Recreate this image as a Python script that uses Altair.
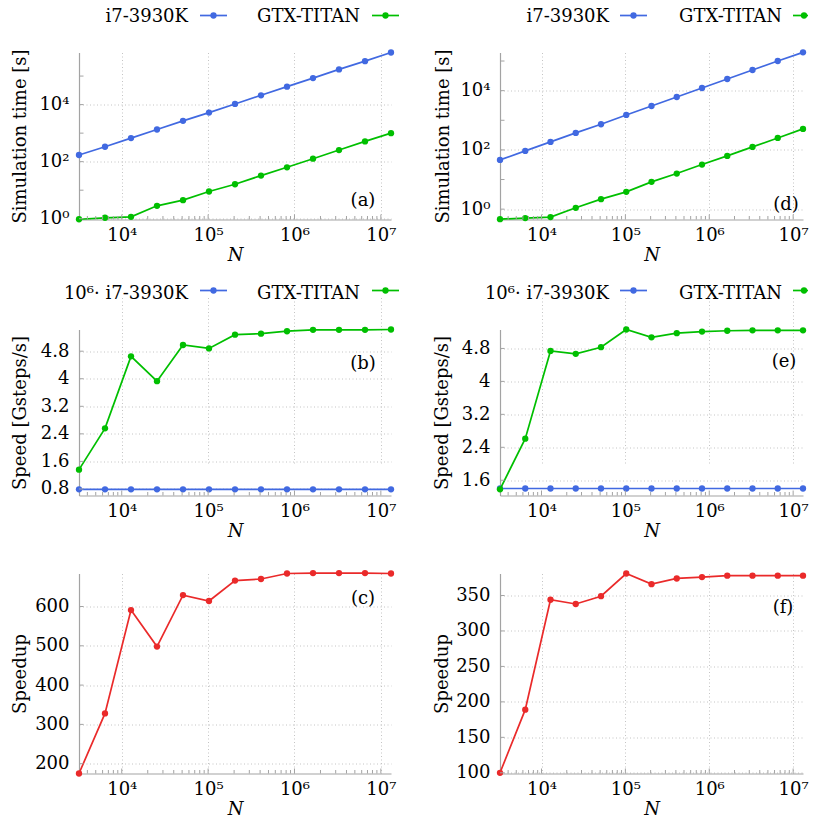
import altair as alt
import pandas as pd

FONT = "DejaVu Serif"
FS = 18

# ---------------- data ----------------
N_vals = [3200, 6400, 12800, 25600, 51200, 102400, 204800, 409600, 819200,
          1638400, 3276800, 6553600, 13107200]

cpu_time_a = [171, 333, 670, 1343, 2692, 5250, 10550, 21200, 42500, 85100, 171000, 333000, 670000]
gpu_time_a = [0.96, 1.08, 1.17, 2.84, 4.48, 8.98, 16.2, 32.5, 63.4, 127, 255, 512, 1000]

cpu_time_d = [46, 92.5, 186, 374, 733, 1513, 3040, 6120, 12300, 24700, 49800, 100000, 196000]
gpu_time_d = [0.46, 0.50, 0.54, 1.11, 2.17, 3.84, 8.34, 15.9, 32, 62.8, 126, 253, 511]

cpu_speed_b = [0.79, 0.79, 0.79, 0.79, 0.79, 0.79, 0.79, 0.79, 0.79, 0.79, 0.79, 0.79, 0.79]
gpu_speed_b = [1.36, 2.56, 4.65, 3.93, 4.98, 4.88, 5.28, 5.31, 5.38, 5.42, 5.42, 5.42, 5.43]

cpu_speed_e = [1.40, 1.40, 1.40, 1.40, 1.40, 1.40, 1.40, 1.40, 1.40, 1.40, 1.40, 1.40, 1.40]
gpu_speed_e = [1.38, 2.61, 4.74, 4.67, 4.83, 5.26, 5.07, 5.17, 5.21, 5.23, 5.24, 5.24, 5.24]

speedup_c = [175, 328, 591, 498, 629, 614, 666, 670, 684, 685, 685, 685, 684]
speedup_f = [100, 189, 344, 338, 349, 381, 366, 374, 376, 378, 378, 378, 378]

x_major = [1e4, 1e5, 1e6, 1e7]
y_vals_time = [1, 100, 10000]
y_vals_b = [0.8, 1.6, 2.4, 3.2, 4, 4.8]
y_vals_e = [1.6, 2.4, 3.2, 4, 4.8]
y_vals_c = [200, 300, 400, 500, 600]
y_vals_f = [100, 150, 200, 250, 300, 350]

BLUE = "#4169e1"
GREEN = "#00bf00"
RED = "#ea2a2a"
AXIS_GRAY = "#a3a3a3"

W_L = 312
W_R = 303
COL_GAP = 109
ROW_GAP = 78
H1, TOP1 = 167, 0
H2, TOP2 = 198, 32
H3, TOP3 = 200, 0
TITLE_N_Y = 41

XDOM = [3200, 13107200]
x_minor = [m * 10 ** k for k in range(3, 8) for m in range(2, 10)
           if XDOM[0] <= m * 10 ** k <= XDOM[1]]

SUP = ['⁰', '¹', '²', '³', '⁴', '⁵', '⁶', '⁷', '⁸', '⁹']
LOG_LABEL = "'10' + [" + ",".join("'%s'" % s for s in SUP) + "][round(log(datum.value)/LN10)]"
LIN_LABEL = "'' + datum.value"

one = pd.DataFrame({"d": [0]})

LEG_LEFT = dict(cpu_right=109, blue=(121, 148, 134.5), gtx_right=281, green=(293, 320, 306.5))
LEG_RIGHT = dict(cpu_right=109, blue=(120, 147, 133.5), gtx_right=282, green=(293, 308, 304))


def txt(text, x, y, align="center", baseline="alphabetic"):
    return alt.Chart(one).mark_text(
        text=text, align=align, baseline=baseline, font=FONT, fontSize=FS, color="black"
    ).encode(x=alt.value(x), y=alt.value(y))


def panel(series, ytype, ydom, yvals, yticks, ytitle, title_x, W, H, top,
          letter, lx, ly, legend=None, leg_pos=LEG_LEFT):
    xs = alt.Scale(type="log", domain=XDOM, nice=False)
    ys = alt.Scale(type=ytype, domain=ydom, range=[H, top], nice=False, zero=False)
    common = dict(grid=True, ticks=False, labelFlush=False, labelOverlap=False, labelBound=False)
    xaxis = alt.Axis(values=x_major, labelExpr=LOG_LABEL, title="N", titleFontStyle="italic",
                     titleX=W / 2, titleY=TITLE_N_Y, titleAlign="center",
                     titleBaseline="alphabetic", labelPadding=7, **common)
    yaxis = alt.Axis(values=yvals, title=ytitle, titleX=title_x, titleY=(H + top) / 2,
                     titleAlign="center", titleBaseline="middle", titleAngle=270,
                     labelPadding=10, labelExpr=LOG_LABEL if ytype == "log" else LIN_LABEL,
                     **common)

    layers = []
    for vals, color in series:
        df = pd.DataFrame({"N": N_vals, "v": vals})
        layers.append(
            alt.Chart(df).mark_line(
                color=color, strokeWidth=1.7,
                point=alt.OverlayMarkDef(filled=True, color=color, size=40, opacity=1)
            ).encode(x=alt.X("N:Q", scale=xs, axis=xaxis),
                     y=alt.Y("v:Q", scale=ys, axis=yaxis))
        )
    # inward ticks
    layers.append(alt.Chart(pd.DataFrame({"t": x_major})).mark_rule(color=AXIS_GRAY, strokeWidth=1).encode(
        x=alt.X("t:Q", scale=xs, axis=xaxis), y=alt.value(H), y2=alt.value(H - 5)))
    layers.append(alt.Chart(pd.DataFrame({"t": x_minor})).mark_rule(color=AXIS_GRAY, strokeWidth=1).encode(
        x=alt.X("t:Q", scale=xs, axis=xaxis), y=alt.value(H), y2=alt.value(H - 3.5)))
    layers.append(alt.Chart(pd.DataFrame({"t": yticks})).mark_rule(color=AXIS_GRAY, strokeWidth=1).encode(
        y=alt.Y("t:Q", scale=ys, axis=yaxis), x=alt.value(0), x2=alt.value(4.5)))

    layers.append(txt(letter, lx, ly, baseline="middle"))

    if legend is not None:
        cpu_label, line_y, base_y = legend
        layers.append(txt(cpu_label, leg_pos["cpu_right"], base_y, align="right"))
        layers.append(txt("GTX-TITAN", leg_pos["gtx_right"], base_y, align="right"))
        for (x1, x2, xc), col in [(leg_pos["blue"], BLUE), (leg_pos["green"], GREEN)]:
            layers.append(alt.Chart(one).mark_rule(color=col, strokeWidth=1.7).encode(
                x=alt.value(x1), x2=alt.value(x2), y=alt.value(line_y)))
            layers.append(alt.Chart(one).mark_point(filled=True, color=col, size=40, opacity=1).encode(
                x=alt.value(xc), y=alt.value(line_y)))

    return alt.layer(*layers).properties(width=W, height=H)


pa = panel([(cpu_time_a, BLUE), (gpu_time_a, GREEN)], "log", [0.94, 6.7e5], y_vals_time,
           [1, 10, 100, 1000, 10000, 100000], "Simulation time [s]", -59, W_L, H1, TOP1,
           "(a)", 284, TOP1 + 148, legend=("i7-3930K", -37, -30.2))
pd_ = panel([(cpu_time_d, BLUE), (gpu_time_d, GREEN)], "log", [0.447, 1.94e5], y_vals_time,
            [1, 10, 100, 1000, 10000, 100000], "Simulation time [s]", -57, W_R, H1, TOP1,
            "(d)", 286, TOP1 + 152, legend=("i7-3930K", -37, -30.2), leg_pos=LEG_RIGHT)
pb = panel([(cpu_speed_b, BLUE), (gpu_speed_b, GREEN)], "linear", [0.61, 5.43], y_vals_b,
           y_vals_b, "Speed [Gsteps/s]", -59, W_L, H2, TOP2,
           "(b)", 284, TOP2 + 34, legend=("10⁶· i7-3930K", TOP2 - 39, TOP2 - 31))
pe = panel([(cpu_speed_e, BLUE), (gpu_speed_e, GREEN)], "linear", [1.23, 5.26], y_vals_e,
           y_vals_e, "Speed [Gsteps/s]", -58, W_R, H2, TOP2,
           "(e)", 284, TOP2 + 32, legend=("10⁶· i7-3930K", TOP2 - 39, TOP2 - 31),
           leg_pos=LEG_RIGHT)
pc = panel([(speedup_c, RED)], "linear", [175, 684], y_vals_c, y_vals_c, "Speedup", -59,
           W_L, H3, TOP3, "(c)", 284, TOP3 + 25)
pf = panel([(speedup_f, RED)], "linear", [99, 381], y_vals_f, y_vals_f, "Speedup", -58,
           W_R, H3, TOP3, "(f)", 283, TOP3 + 34)

chart = alt.concat(
    pa, pd_, pb, pe, pc, pf, columns=2,
    spacing=alt.RowColnumber(row=ROW_GAP, column=COL_GAP),
    bounds="flush", align="each",
).properties(
    padding={"left": 3, "top": -0.5, "right": 0, "bottom": -2}
).configure_view(stroke=None).configure_axis(
    labelFont=FONT, labelFontSize=FS, labelColor="black",
    titleFont=FONT, titleFontSize=FS, titleColor="black", titleFontWeight="normal",
    domainColor=AXIS_GRAY, domainWidth=1.2,
    gridColor="#bdbdbd", gridDash=[1, 2.5], gridWidth=0.9,
)

chart.save("out.html", embed_options={"renderer": "svg", "actions": False})
